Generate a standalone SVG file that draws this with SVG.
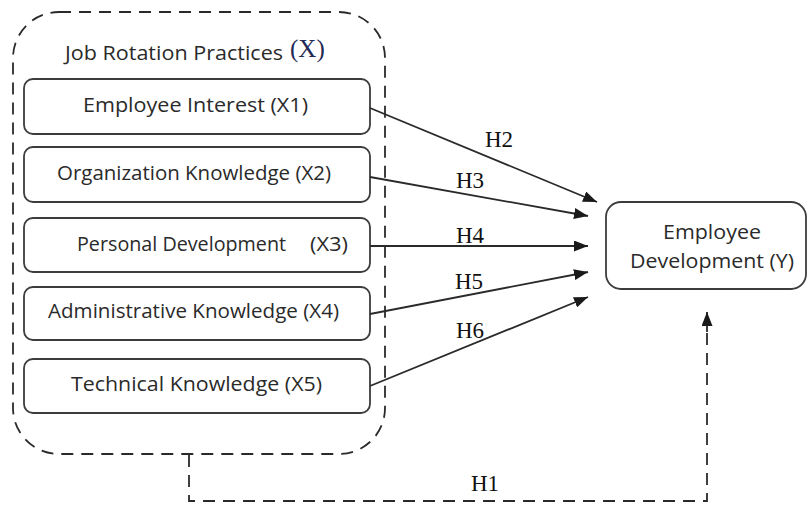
<svg xmlns="http://www.w3.org/2000/svg" width="808" height="506" viewBox="0 0 808 506">
<defs>
<marker id="ah" markerWidth="14" markerHeight="11" refX="14" refY="5.5" orient="auto" markerUnits="userSpaceOnUse">
<path d="M0,0 L14,5.5 L0,11 Z" fill="#1a1a1a"/>
</marker>
<style>
.box{fill:#fff;stroke:#3c3c3c;stroke-width:1.8}
.t{font-family:"Open Sans",sans-serif;font-size:20.5px;fill:#2a2a2a}
.h{font-family:"Liberation Serif",serif;font-size:23px;fill:#111}
.ln{stroke:#2a2a2a;stroke-width:1.8;fill:none}
.dash{stroke:#2a2a2a;stroke-width:1.8;fill:none;stroke-dasharray:12 8}
</style>
</defs>
<rect width="808" height="506" fill="#fff"/>
<g id="group-X">
<rect x="13" y="12" width="372" height="442" rx="46" class="dash"/>
<text x="65" y="60" class="t" textLength="218" lengthAdjust="spacingAndGlyphs">Job Rotation Practices</text>
<text x="290" y="57" font-family="Liberation Serif,serif" font-size="25" fill="#1f2a55">(X)</text>
</g>
<g id="X1">
<rect x="24" y="79" width="346" height="55" rx="9" class="box"/>
<text x="83" y="112" class="t" textLength="225" lengthAdjust="spacingAndGlyphs">Employee Interest (X1)</text>
</g>
<g id="X2">
<rect x="24" y="147" width="346" height="55" rx="9" class="box"/>
<text x="57" y="180" class="t" textLength="274" lengthAdjust="spacingAndGlyphs">Organization Knowledge (X2)</text>
</g>
<g id="X3">
<rect x="24" y="218" width="346" height="54" rx="9" class="box"/>
<text x="77" y="251" class="t" textLength="209" lengthAdjust="spacingAndGlyphs">Personal Development</text>
<text x="310" y="251" class="t" textLength="38" lengthAdjust="spacingAndGlyphs">(X3)</text>
</g>
<g id="X4">
<rect x="24" y="287" width="346" height="53" rx="9" class="box"/>
<text x="48" y="318" class="t" textLength="291" lengthAdjust="spacingAndGlyphs">Administrative Knowledge (X4)</text>
</g>
<g id="X5">
<rect x="24" y="359" width="346" height="54" rx="9" class="box"/>
<text x="71" y="391" class="t" textLength="251" lengthAdjust="spacingAndGlyphs">Technical Knowledge (X5)</text>
</g>
<g id="Y">
<rect x="606" y="202" width="200" height="87" rx="15" class="box"/>
<text x="663" y="239" class="t" textLength="98" lengthAdjust="spacingAndGlyphs">Employee</text>
<text x="630" y="268" class="t" textLength="164" lengthAdjust="spacingAndGlyphs">Development (Y)</text>
</g>
<g id="connectors">
<line x1="370" y1="108" x2="597" y2="202" class="ln" marker-end="url(#ah)"/>
<line x1="370" y1="177" x2="588" y2="216" class="ln" marker-end="url(#ah)"/>
<line x1="370" y1="246" x2="588" y2="246" class="ln" marker-end="url(#ah)"/>
<line x1="370" y1="314" x2="588" y2="272" class="ln" marker-end="url(#ah)"/>
<line x1="370" y1="386" x2="588" y2="297" class="ln" marker-end="url(#ah)"/>
<path d="M189,455 V501 H707 V328" class="dash" stroke-dasharray="10 7"/>
<line x1="707" y1="332" x2="707" y2="312" class="ln" marker-end="url(#ah)"/>
<text x="485" y="147" class="h">H2</text>
<text x="456" y="188" class="h">H3</text>
<text x="456" y="243" class="h">H4</text>
<text x="455" y="289" class="h">H5</text>
<text x="456" y="338" class="h">H6</text>
<text x="471" y="491" class="h">H1</text>
</g>
</svg>
